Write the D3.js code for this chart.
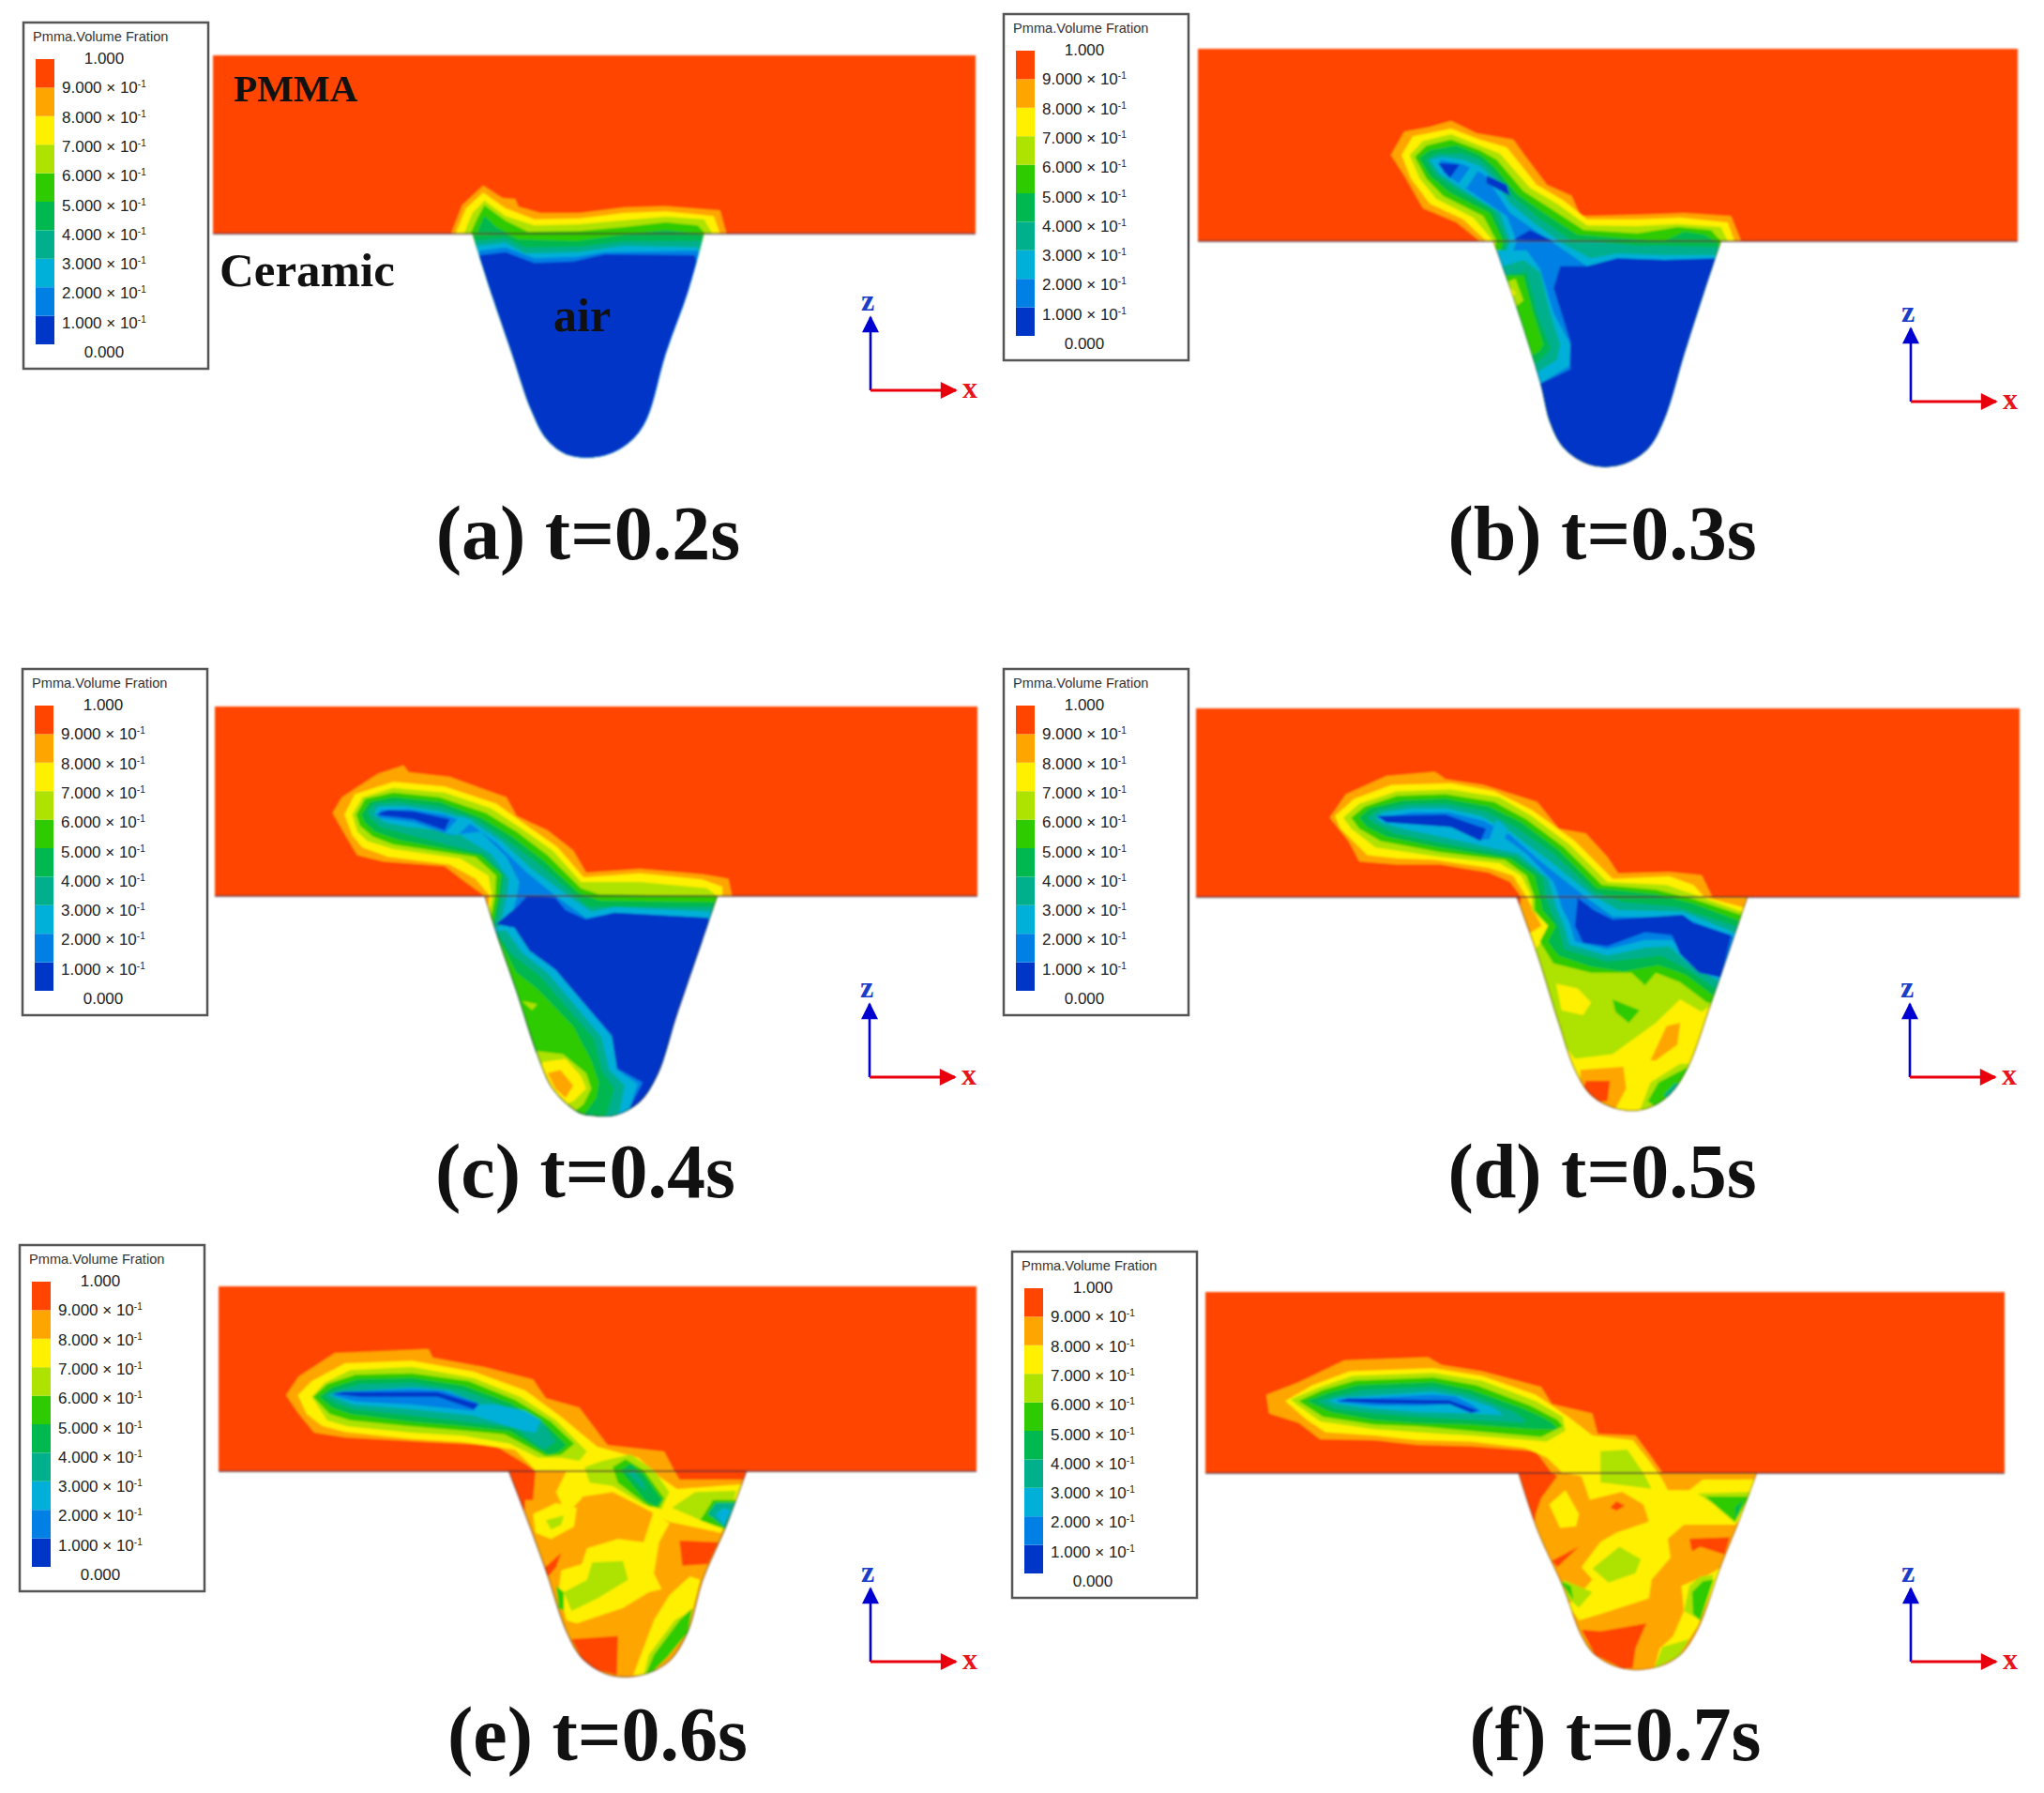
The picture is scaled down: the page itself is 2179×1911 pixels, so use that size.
<!DOCTYPE html>
<html>
<head>
<meta charset="utf-8">
<script src="https://cdn.jsdelivr.net/npm/d3@7"></script>
<style>
  html, body { margin: 0; padding: 0; background: #fff; }
  svg { display: block; }
</style>
</head>
<body>
<div id="chart"></div>
<script>
// Colour bands of the volume fraction, index 0 = 0.0-0.1 ... index 9 = 0.9-1.0
const levelColors = ["#0036c8", "#0080e4", "#00b0d8", "#00b08c", "#00b850", "#2ecb00", "#aee200", "#fff000", "#ffa500", "#ff4500"];
const legendTitle = "Pmma.Volume Fration";
const legendValues = [1, 0.9, 0.8, 0.7, 0.6, 0.5, 0.4, 0.3, 0.2, 0.1, 0];
const panelCaptions = ["(a) t=0.2s", "(b) t=0.3s", "(c) t=0.4s", "(d) t=0.5s", "(e) t=0.6s", "(f) t=0.7s"];

// Cavity outlines, field coordinates
const bowlA = [[738,746],[770,950],[800,1130],[830,1310],[855,1405],[890,1455],[945,1455],[985,1410],[1010,1340],[1040,1130],[1075,930],[1100,746]];
const bowlB = [[745,770],[775,950],[815,1220],[830,1350],[850,1430],[890,1485],[935,1485],[975,1435],[1000,1340],[1030,1130],[1060,930],[1085,770]];
const bowlC = [[578,645],[600,760],[640,950],[680,1150],[710,1260],[760,1335],[785,1345],[830,1345],[880,1300],[915,1210],[950,1030],[1000,790],[1030,645]];
const bowlD = [[622,648],[660,830],[700,1050],[730,1200],[760,1280],[810,1325],[860,1325],[905,1280],[940,1190],[980,1000],[1020,800],[1050,648]];
const bowlE = [[588,653],[620,790],[660,970],[700,1165],[730,1250],[785,1305],[845,1305],[900,1260],[935,1170],[965,1000],[1010,830],[1050,653]];
const bowlF = [[608,660],[645,850],[690,1020],[725,1180],[750,1240],[800,1283],[855,1283],[905,1245],[940,1160],[985,950],[1020,800],[1050,660]];

// Contour regions [band, outline], painted in order
const contoursA = [
  [8, [[705,746],[722,655],[755,592],[785,632],[805,635],[810,660],[845,680],[905,680],[975,662],[1040,658],[1125,672],[1135,746],[1200,1500],[650,1500]]],
  [7, [[712,746],[728,665],[755,615],[790,665],[835,700],[905,697],[975,680],[1040,675],[1115,690],[1125,746],[1200,1500],[650,1500]]],
  [6, [[725,746],[738,680],[757,640],[790,690],[835,720],[905,716],[975,703],[1040,692],[1100,700],[1113,746],[1200,1500],[650,1500]]],
  [5, [[735,746],[745,700],[757,655],[790,705],[825,740],[905,738],[975,725],[1040,710],[1090,720],[1102,746],[1200,1500],[650,1500]]],
  [4, [[738,752],[790,745],[810,765],[900,770],[975,750],[1040,735],[1085,745],[1100,752],[1200,1500],[650,1500]]],
  [3, [[738,770],[790,760],[820,790],[905,788],[975,770],[1095,770],[1200,1500],[650,1500]]],
  [2, [[745,785],[790,775],[820,810],[905,805],[975,785],[1090,790],[1200,1500],[650,1500]]],
  [1, [[750,800],[790,790],[835,825],[900,820],[945,805],[1090,800],[1200,1500],[650,1500]]],
  [0, [[750,815],[790,805],[835,840],[895,835],[945,812],[1085,815],[1200,1500],[650,1500]]],
  [4, [[745,746],[757,690],[775,725],[795,746]]]
];
const contoursB = [
  [8, [[725,770],[690,710],[640,665],[612,560],[592,495],[612,420],[650,405],[682,385],[720,425],[775,445],[790,490],[825,590],[862,625],[875,690],[960,685],[1030,680],[1100,690],[1115,770],[1200,1500],[650,1500]]],
  [7, [[735,770],[700,700],[650,650],[622,570],[608,495],[625,435],[682,410],[725,445],[765,470],[810,590],[850,640],[885,700],[960,700],[1025,695],[1095,710],[1105,770],[1200,1500],[650,1500]]],
  [6, [[745,770],[715,695],[660,635],[635,570],[620,495],[640,450],[682,428],[725,465],[755,490],[800,600],[840,650],[885,720],[960,722],[1020,715],[1085,725],[1095,770],[1200,1500],[650,1500]]],
  [5, [[750,770],[730,690],[670,625],[645,570],[628,500],[645,465],[682,445],[725,480],[750,510],[790,610],[830,665],[880,735],[960,745],[1020,725],[1070,735],[1085,770],[1200,1500],[650,1500]]],
  [4, [[760,770],[740,680],[680,615],[650,560],[635,505],[650,480],[690,465],[725,495],[745,530],[780,620],[820,680],[870,750],[960,765],[1000,770],[1030,740],[1060,750],[1080,775],[1200,1500],[650,1500]]],
  [3, [[765,770],[745,670],[690,605],[660,560],[645,510],[660,490],[700,490],[725,510],[745,550],[775,630],[815,700],[860,765],[960,785],[1000,785],[1080,790],[1200,1500],[650,1500]]],
  [2, [[770,770],[755,680],[700,605],[665,555],[650,510],[670,500],[700,510],[725,530],[745,570],[770,650],[810,720],[850,780],[890,825],[930,810],[1000,815],[1075,815],[1200,1500],[650,1500]]],
  [1, [[780,770],[765,690],[710,610],[670,550],[665,510],[700,525],[730,555],[745,600],[770,680],[810,740],[845,790],[885,850],[930,825],[1000,830],[1075,830],[1200,1500],[650,1500]]],
  [0, [[845,850],[885,850],[930,825],[1000,830],[1075,825],[1200,1500],[700,1500],[815,1225],[860,1180],[860,1090],[835,920]]],
  [2, [[715,522],[725,535],[705,600],[692,590]]],
  [0, [[662,520],[695,525],[680,570]]],
  [0, [[735,560],[765,590],[770,625],[735,585]]],
  [0, [[775,765],[800,735],[835,770]]],
  [2, [[745,800],[795,800],[815,860],[835,1000],[860,1100],[858,1170],[815,1225],[700,1225]]],
  [3, [[745,860],[790,830],[815,870],[830,1000],[845,1100],[840,1150],[810,1190],[700,1190]]],
  [4, [[745,880],[795,870],[810,1000],[830,1110],[825,1130],[805,1170],[700,1150]]],
  [5, [[760,880],[790,880],[805,1000],[820,1100],[815,1120],[800,1140],[700,1120]]],
  [6, [[760,905],[778,890],[790,960],[775,985],[700,980]]],
  [7, [[765,905],[778,935],[770,965]]]
];
const contoursC = [
  [8, [[578,645],[540,600],[500,550],[380,535],[330,515],[310,460],[282,380],[300,330],[370,255],[420,228],[430,250],[510,265],[620,330],[640,390],[700,435],[750,500],[775,570],[880,558],[1000,575],[1052,590],[1058,640],[1200,1500],[500,1500]]],
  [7, [[588,645],[560,590],[510,545],[390,520],[340,490],[320,450],[305,385],[325,320],[400,280],[500,295],[600,350],[660,420],[720,490],[770,585],[880,572],[1000,592],[1040,615],[1040,645],[1200,1500],[500,1500]]],
  [6, [[592,645],[585,580],[530,525],[400,495],[350,470],[330,440],[320,385],[340,330],[400,300],[500,315],[590,365],[650,430],[710,500],[765,600],[880,600],[1010,620],[1030,645],[1200,1500],[500,1500]]],
  [5, [[598,645],[600,580],[560,520],[400,480],[360,455],[335,420],[328,385],[345,335],[400,315],[490,330],[580,380],[640,440],[700,515],[765,620],[800,640],[1030,645],[1200,1500],[500,1500]]],
  [4, [[605,645],[610,575],[570,515],[410,465],[365,440],[345,410],[338,385],[355,345],[400,330],[490,345],[570,395],[630,455],[690,530],[760,635],[800,660],[1025,665],[1200,1500],[500,1500]]],
  [3, [[610,645],[615,580],[575,510],[420,445],[375,425],[355,395],[350,375],[365,350],[410,345],[490,360],[560,400],[620,465],[680,540],[750,640],[780,680],[1020,680],[1200,1500],[500,1500]]],
  [2, [[620,650],[625,590],[590,510],[520,440],[430,425],[385,410],[362,385],[370,360],[420,358],[490,375],[550,405],[610,470],[670,560],[740,645],[785,695],[830,680],[1015,695],[1200,1500],[500,1500]]],
  [1, [[640,650],[645,600],[620,520],[570,440],[510,450],[440,410],[370,395],[375,370],[430,368],[500,385],[550,415],[600,475],[660,570],[720,650],[775,715],[830,698],[1012,715],[1200,1500],[500,1500]]],
  [2, [[500,445],[530,390],[555,405],[525,450]]],
  [0, [[365,385],[390,370],[440,375],[510,400],[500,435],[440,400]]],
  [0, [[660,645],[715,650],[735,690],[775,720],[830,698],[1012,715],[1050,1400],[840,1400],[860,1320],[885,1240],[835,1195],[825,1090],[715,880],[665,820],[635,745],[600,735],[640,680]]],
  [2, [[590,745],[635,745],[665,820],[715,880],[825,1095],[835,1200],[875,1245],[860,1320],[840,1400],[600,1400]]],
  [3, [[590,755],[620,755],[650,825],[700,890],[805,1095],[820,1200],[850,1250],[840,1330],[810,1400],[600,1400]]],
  [4, [[595,770],[605,770],[630,830],[685,900],[790,1100],[805,1200],[830,1260],[815,1340],[780,1400],[600,1400]]],
  [5, [[605,780],[640,890],[680,940],[750,1060],[785,1170],[800,1240],[795,1290],[770,1345],[600,1345]]],
  [6, [[650,980],[680,990],[670,1010]]],
  [6, [[680,1140],[730,1150],[775,1210],[785,1260],[770,1310],[750,1335],[680,1335]]],
  [7, [[690,1175],[735,1165],[765,1220],[775,1260],[750,1300],[720,1320],[680,1300]]],
  [8, [[700,1210],[725,1200],[750,1250],[735,1290],[715,1260]]]
];
const contoursD = [
  [8, [[630,648],[610,600],[570,570],[480,545],[400,545],[330,535],[310,470],[275,395],[305,320],[380,262],[470,248],[490,272],[560,290],[660,345],[700,430],[750,445],[790,520],[810,572],[905,568],[965,578],[985,648],[1060,648],[1100,1400],[600,1400]]],
  [7, [[640,648],[615,580],[570,555],[470,530],[400,525],[345,515],[295,430],[285,390],[320,335],[390,290],[500,285],[580,310],[650,370],[730,470],[800,590],[905,582],[950,610],[970,648],[1040,680],[1100,700],[1100,1400],[600,1400],[640,770],[668,740]]],
  [6, [[650,648],[630,580],[590,540],[480,520],[360,490],[315,430],[300,395],[330,350],[400,310],[500,305],[590,330],[650,390],[720,480],[790,600],[900,610],[950,640],[1040,695],[1100,700],[1100,1000],[985,990],[965,1015],[925,975],[880,1050],[800,1150],[730,1165],[680,1050],[640,850],[668,790],[680,740],[650,690]]],
  [5, [[655,648],[640,580],[600,530],[480,505],[370,470],[330,430],[315,395],[340,360],[400,325],[490,320],[580,345],[640,400],[710,490],[780,610],[880,625],[950,655],[1038,705],[1100,720],[1100,985],[975,985],[925,920],[880,890],[860,930],[835,890],[760,890],[690,860],[665,790],[680,740],[655,690]]],
  [4, [[665,648],[655,580],[610,525],[480,490],[380,455],[345,425],[330,395],[350,365],[410,340],[490,335],[570,360],[630,410],[700,500],[770,620],[880,640],[950,670],[1035,725],[1100,730],[1100,960],[985,960],[935,895],[885,865],[820,885],[760,870],[700,835],[680,790],[695,740],[670,690]]],
  [3, [[675,648],[670,585],[620,520],[480,475],[395,445],[355,410],[345,395],[365,370],[420,352],[490,350],[565,375],[620,425],[690,510],[765,630],[820,665],[920,680],[1035,745],[1100,750],[1100,945],[990,940],[935,875],[890,835],[840,845],[790,855],[710,815],[700,745],[685,690]]],
  [2, [[690,648],[680,590],[625,510],[480,455],[410,430],[370,410],[360,392],[375,378],[430,365],[490,365],[555,390],[610,440],[680,530],[760,640],[810,690],[930,695],[1030,765],[1100,770],[1100,925],[1000,920],[940,860],[905,805],[860,810],[790,835],[720,800],[710,740],[695,680]]],
  [1, [[700,648],[690,600],[640,510],[600,460],[555,465],[500,420],[380,410],[375,392],[430,378],[495,378],[560,405],[610,450],[670,540],[755,655],[800,710],[930,715],[1025,775],[1100,780],[1100,910],[1003,905],[945,850],[910,785],[860,785],[790,815],[730,790],[720,730],[705,680]]],
  [0, [[362,390],[490,385],[530,410],[565,430],[555,470],[500,425],[380,410]]],
  [2, [[570,470],[585,400],[605,430],[600,460]]],
  [0, [[735,650],[765,690],[800,720],[930,705],[950,730],[1020,770],[1000,905],[960,890],[925,830],[910,770],[860,760],[790,805],[745,795],[730,740]]],
  [7, [[695,925],[735,940],[760,985],[745,1025],[705,1010]]],
  [5, [[800,975],[850,1010],[830,1050],[805,1015]]],
  [8, [[870,1170],[900,1060],[925,1050],[920,1120],[880,1170]]],
  [8, [[740,1200],[820,1190],[825,1260],[805,1325],[740,1325]]],
  [9, [[750,1235],[795,1235],[790,1300],[740,1300]]],
  [6, [[925,1180],[870,1240],[850,1330],[900,1330],[950,1180]]],
  [5, [[935,1195],[885,1240],[865,1300],[890,1330],[945,1190]]],
  [3, [[915,1245],[895,1280],[905,1295],[930,1240]]]
];
const contoursE = [
  [8, [[620,630],[560,570],[430,560],[270,545],[210,530],[180,470],[155,410],[180,350],[250,275],[330,270],[432,262],[440,290],[540,320],[635,360],[660,420],[725,450],[780,570],[890,590],[910,653],[920,680],[1045,680],[1100,680],[1100,1400],[600,1400],[620,745],[635,745],[640,653]]],
  [7, [[640,650],[600,585],[500,560],[400,550],[270,528],[225,508],[195,470],[178,410],[205,365],[270,308],[400,300],[520,335],[620,395],[690,480],[760,575],[840,610],[880,670],[915,710],[1040,695],[1030,760],[1000,850],[900,815],[850,770],[790,720],[730,735],[715,653]]],
  [7, [[700,653],[735,653],[730,740],[700,790],[680,720]]],
  [7, [[635,790],[680,755],[720,770],[715,830],[670,870],[640,850]]],
  [6, [[660,810],[695,795],[690,825],[670,840]]],
  [7, [[740,900],[800,870],[850,880],[870,780],[900,820],[880,880],[870,980],[885,1030],[860,1040],[810,1090],[720,1140],[700,1130],[685,1030],[690,970],[730,950]]],
  [6, [[750,945],[810,940],[820,1000],[760,1060],[710,1100],[695,1040],[740,1000]]],
  [5, [[680,1020],[695,1040],[695,1100],[685,1090]]],
  [9, [[920,875],[995,880],[975,950],[925,955]]],
  [9, [[655,965],[690,915],[680,960],[665,990]]],
  [9, [[710,1190],[800,1180],[798,1305],[740,1280]]],
  [7, [[940,990],[960,1000],[935,1165],[880,1270],[850,1305],[830,1305],[870,1130],[900,1050]]],
  [6, [[940,1100],[935,1170],[880,1270],[850,1305],[860,1240],[910,1130]]],
  [5, [[945,1090],[935,1170],[895,1250],[870,1290],[855,1300],[870,1240],[920,1130]]],
  [6, [[645,610],[590,565],[500,540],[400,530],[275,510],[235,490],[205,415],[230,370],[280,330],[400,320],[520,355],[610,415],[680,490],[740,590],[725,620],[690,610]]],
  [6, [[735,640],[770,620],[825,600],[870,650],[900,720],[885,775],[850,760],[790,700],[745,690]]],
  [6, [[905,770],[950,720],[1030,715],[1010,840],[960,810]]],
  [5, [[960,810],[985,745],[1030,745],[1010,840]]],
  [3, [[975,790],[990,755],[1028,755],[1010,835]]],
  [2, [[990,790],[1005,770],[1020,780],[1005,825]]],
  [5, [[660,605],[580,535],[480,520],[400,510],[280,490],[240,470],[208,415],[235,375],[290,345],[400,340],[510,365],[600,425],[670,495],[715,565],[690,600]]],
  [4, [[665,600],[590,525],[480,505],[400,495],[280,470],[245,450],[220,415],[245,385],[295,360],[400,355],[500,380],[590,435],[660,505],[700,570],[685,590]]],
  [3, [[655,585],[600,515],[480,490],[400,475],[285,455],[250,435],[230,410],[250,395],[300,375],[400,370],[500,395],[580,445],[650,490],[680,560]]],
  [2, [[610,520],[520,475],[400,455],[285,440],[240,410],[260,400],[400,385],[470,395],[530,440],[560,440],[620,460],[650,490],[640,530]]],
  [1, [[520,460],[400,440],[290,430],[245,410],[265,398],[400,390],[460,395],[530,435]]],
  [0, [[245,405],[265,400],[450,400],[530,440],[520,455],[450,415],[300,415]]],
  [5, [[790,640],[815,615],[850,650],[890,740],[880,770],[860,765],[800,690]]],
  [4, [[805,650],[825,630],[850,665],[885,745],[875,765],[855,750]]],
  [3, [[820,660],[830,650],[850,690],[855,720]]]
];
const contoursF = [
  [8, [[670,660],[640,590],[520,575],[420,570],[340,555],[240,552],[200,500],[145,470],[140,410],[200,370],[285,300],[440,290],[465,315],[540,335],[650,385],[670,440],[745,470],[755,535],[825,540],[855,610],[875,660],[1100,660],[1100,1400],[600,1400],[640,790],[650,740],[680,670]]],
  [7, [[690,660],[660,610],[620,580],[520,560],[420,555],[340,540],[250,530],[215,490],[175,430],[225,380],[295,335],[450,325],[540,350],[640,410],[700,480],[745,540],[820,555],[850,620],[875,680],[885,715],[925,715],[950,680],[1045,680],[1030,790],[1010,825],[915,825],[885,870],[890,930],[855,1000],[850,1060],[760,1110],[720,1130],[700,1080],[725,1040],[745,1000],[725,960],[760,880],[790,850],[850,815],[840,760],[800,720],[740,745],[725,670]]],
  [7, [[665,760],[695,715],[720,790],[715,830],[685,835]]],
  [9, [[790,750],[805,765],[790,780],[778,770]]],
  [6, [[745,965],[795,895],[835,935],[825,980],[775,1010]]],
  [6, [[690,1000],[745,1040],[720,1090],[700,1060]]],
  [5, [[685,1005],[705,1020],[710,1065]]],
  [9, [[925,870],[1000,865],[990,920],[945,895],[930,910]]],
  [9, [[670,940],[720,895],[680,960]]],
  [7, [[960,985],[985,960],[940,1150],[905,1240],[860,1283],[870,1220],[895,1180],[915,1100],[910,1020]]],
  [6, [[945,990],[970,985],[945,1130],[915,1100],[925,1020]]],
  [5, [[950,1005],[970,1000],[945,1130],[932,1110],[930,1040]]],
  [6, [[875,1215],[925,1190],[905,1245],[860,1283]]],
  [9, [[725,1160],[760,1165],[845,1140],[825,1220],[820,1283],[800,1283],[750,1240]]],
  [6, [[940,725],[1040,720],[1010,820],[970,760]]],
  [5, [[955,735],[1035,735],[1010,815],[985,780]]],
  [4, [[1010,770],[1025,745],[1010,810]]],
  [6, [[760,590],[810,585],[840,660],[855,710],[760,690]]],
  [6, [[695,525],[660,560],[520,540],[420,530],[340,520],[240,495],[195,440],[185,425],[240,385],[300,350],[450,340],[540,365],[640,430],[690,480]]],
  [5, [[690,510],[650,545],[520,525],[420,510],[340,505],[245,480],[200,430],[245,395],[305,365],[450,355],[530,380],[630,445],[680,490]]],
  [4, [[680,520],[640,520],[520,505],[420,500],[340,490],[260,465],[215,430],[255,405],[310,380],[450,370],[520,395],[610,450],[650,480],[670,500]]],
  [3, [[620,500],[520,490],[420,480],[340,470],[270,455],[235,430],[265,415],[320,395],[450,385],[520,410],[600,465],[620,490]]],
  [2, [[580,475],[520,470],[420,465],[340,455],[275,440],[255,430],[275,420],[450,400],[500,415],[560,450]]],
  [1, [[540,465],[490,440],[420,445],[340,445],[275,435],[270,425],[450,410],[490,415],[525,445]]],
  [0, [[275,430],[290,422],[480,428],[535,462],[520,468],[480,440],[350,438]]]
];

const width = 2179, height = 1911;

// plate: field extent -> page extent, legend: top-left of the box, axes: origin of the triad
const panels = [
  { bowl: bowlA, contours: contoursA, fieldX: [333, 1524], fieldY: [176, 746], pageX: [227, 1040], pageY: [59, 249], legend: [25, 24], axes: [928, 416], caption: [627, 596], edge: 0 },
  { bowl: bowlB, contours: contoursB, fieldX: [304, 1528], fieldY: [155, 770], pageX: [1277, 2151], pageY: [52, 257], legend: [1070, 15], axes: [2037, 428], caption: [1708, 596], edge: 0.3 },
  { bowl: bowlC, contours: contoursC, fieldX: [53, 1536], fieldY: [40, 645], pageX: [229, 1042], pageY: [753, 955], legend: [24, 713], axes: [927, 1148], caption: [624, 1276], edge: 0.6 },
  { bowl: bowlD, contours: contoursD, fieldX: [27, 1555], fieldY: [46, 648], pageX: [1275, 2153], pageY: [755, 956], legend: [1070, 713], axes: [2036, 1148], caption: [1708, 1276], edge: 0.5 },
  { bowl: bowlE, contours: contoursE, fieldX: [24, 1497], fieldY: [62, 653], pageX: [233, 1041], pageY: [1371, 1568], legend: [21, 1327], axes: [928, 1771], caption: [637, 1876], edge: 0.6 },
  { bowl: bowlF, contours: contoursF, fieldX: [27, 1510], fieldY: [82, 660], pageX: [1285, 2137], pageY: [1377, 1570], legend: [1079, 1334], axes: [2037, 1771], caption: [1722, 1876], edge: 0.4 }
];

const svg = d3.select("#chart")
  .append("svg")
  .attr("width", width)
  .attr("height", height)
  .attr("viewBox", `0 0 ${width} ${height}`);

const defs = svg.append("defs");

defs.append("filter").attr("id", "soft")
  .attr("x", "-2%").attr("y", "-2%").attr("width", "104%").attr("height", "104%")
  .append("feGaussianBlur").attr("stdDeviation", 1.2);

const arrow = (id, color) => defs.append("marker")
  .attr("id", id)
  .attr("viewBox", "0 0 10 10")
  .attr("refX", 9).attr("refY", 5)
  .attr("markerUnits", "userSpaceOnUse")
  .attr("markerWidth", 20).attr("markerHeight", 18)
  .attr("orient", "auto")
  .append("path").attr("d", "M0,0L10,5L0,10Z").attr("fill", color);
arrow("arrowBlue", "#0000d0");
arrow("arrowRed", "#e8000c");

const serif = "'Liberation Serif', 'DejaVu Serif', serif";
const sans = "'Liberation Sans', Roboto, sans-serif";

function drawLegend(g) {
  const boxW = 197, boxH = 369;
  const barY = d3.scaleLinear().domain([0, 1]).range([343, 39]);
  const labelY = d3.scaleLinear().domain([0, 1]).range([352, 39]);

  g.append("rect")
    .attr("width", boxW).attr("height", boxH)
    .attr("fill", "#fff").attr("stroke", "#555").attr("stroke-width", 2.5);

  g.append("text")
    .attr("x", 10).attr("y", 20)
    .style("font", `14.6px ${sans}`).attr("fill", "#333")
    .text(legendTitle);

  g.selectAll(".band")
    .data(levelColors)
    .join("rect")
    .attr("class", "band")
    .attr("x", 13).attr("width", 20)
    .attr("y", (d, i) => barY((i + 1) / 10))
    .attr("height", (d, i) => barY(i / 10) - barY((i + 1) / 10))
    .attr("fill", d => d);

  const labels = g.selectAll(".tick")
    .data(legendValues)
    .join("text")
    .attr("class", "tick")
    .attr("y", d => labelY(d) + 5)
    .attr("fill", "#222")
    .style("font", `17px ${sans}`);

  labels.filter(d => d === 0 || d === 1)
    .attr("x", 86).attr("text-anchor", "middle")
    .text(d => d.toFixed(3));

  labels.filter(d => d !== 0 && d !== 1)
    .attr("x", 41)
    .text(d => `${(d * 10).toFixed(3)} × 10`)
    .append("tspan")
    .attr("dy", -6)
    .style("font-size", "10px")
    .text("-1");
}

panels.forEach((p, idx) => {
  const x = d3.scaleLinear().domain(p.fieldX).range(p.pageX);
  const y = d3.scaleLinear().domain(p.fieldY).range(p.pageY);
  const line = d3.line().x(d => x(d[0])).y(d => y(d[1]));
  const closed = pts => line(pts) + "Z";
  // the cavity wall is a rounded curve
  const wall = d3.line().x(d => x(d[0])).y(d => y(d[1])).curve(d3.curveCatmullRom);

  // Region = plate + cavity, everything inside is clipped to it
  const clip = defs.append("clipPath").attr("id", `region${idx}`);
  clip.append("rect")
    .attr("x", p.pageX[0]).attr("y", p.pageY[0])
    .attr("width", p.pageX[1] - p.pageX[0]).attr("height", p.pageY[1] - p.pageY[0]);
  clip.append("path").attr("d", wall(p.bowl) + "Z");

  const soft = svg.append("g").attr("filter", "url(#soft)");
  const field = soft.append("g").attr("clip-path", `url(#region${idx})`);

  field.append("rect")
    .attr("x", p.pageX[0]).attr("y", p.pageY[0])
    .attr("width", p.pageX[1] - p.pageX[0]).attr("height", p.pageY[1] - p.pageY[0] + 400)
    .attr("fill", levelColors[9]);

  field.selectAll(".contour")
    .data(p.contours)
    .join("path")
    .attr("class", "contour")
    .attr("d", d => closed(d[1]))
    .attr("fill", d => levelColors[d[0]]);

  // cavity wall and interface line
  soft.append("path")
    .attr("d", wall(p.bowl))
    .attr("fill", "none")
    .attr("stroke", "#222")
    .attr("stroke-opacity", p.edge)
    .attr("stroke-width", 1.2);

  soft.append("line")
    .attr("x1", p.pageX[0]).attr("x2", p.pageX[1])
    .attr("y1", p.pageY[1]).attr("y2", p.pageY[1])
    .attr("stroke", "#4a3030")
    .attr("stroke-opacity", 0.7)
    .attr("stroke-width", 2);

  drawLegend(svg.append("g").attr("transform", `translate(${p.legend})`));

  // x/z triad
  const axes = svg.append("g").attr("transform", `translate(${p.axes})`);
  axes.append("line").attr("x1", 0).attr("y1", 0).attr("x2", 0).attr("y2", -78)
    .attr("stroke", "#0000d0").attr("stroke-width", 2.6).attr("marker-end", "url(#arrowBlue)");
  axes.append("line").attr("x1", 0).attr("y1", 0).attr("x2", 91).attr("y2", 0)
    .attr("stroke", "#e8000c").attr("stroke-width", 2.8).attr("marker-end", "url(#arrowRed)");
  axes.append("text").attr("x", -3).attr("y", -85).attr("text-anchor", "middle")
    .attr("fill", "#1a3ec8").style("font", `bold 32px ${serif}`).text("z");
  axes.append("text").attr("x", 106).attr("y", 8).attr("text-anchor", "middle")
    .attr("fill", "#e8141c").style("font", `bold 32px ${serif}`).text("x");

  svg.append("text")
    .attr("x", p.caption[0]).attr("y", p.caption[1])
    .attr("text-anchor", "middle")
    .attr("fill", "#111")
    .style("font", `bold 82px ${serif}`)
    .text(panelCaptions[idx]);
});

// Material labels, panel (a) only
const materialLabels = [
  { text: "PMMA", x: 249, y: 108, size: 41 },
  { text: "Ceramic", x: 234, y: 305, size: 51 },
  { text: "air", x: 590, y: 353, size: 50 }
];
svg.selectAll(".material")
  .data(materialLabels)
  .join("text")
  .attr("class", "material")
  .attr("x", d => d.x).attr("y", d => d.y)
  .attr("fill", "#111")
  .style("font", d => `bold ${d.size}px ${serif}`)
  .text(d => d.text);
</script>
</body>
</html>
